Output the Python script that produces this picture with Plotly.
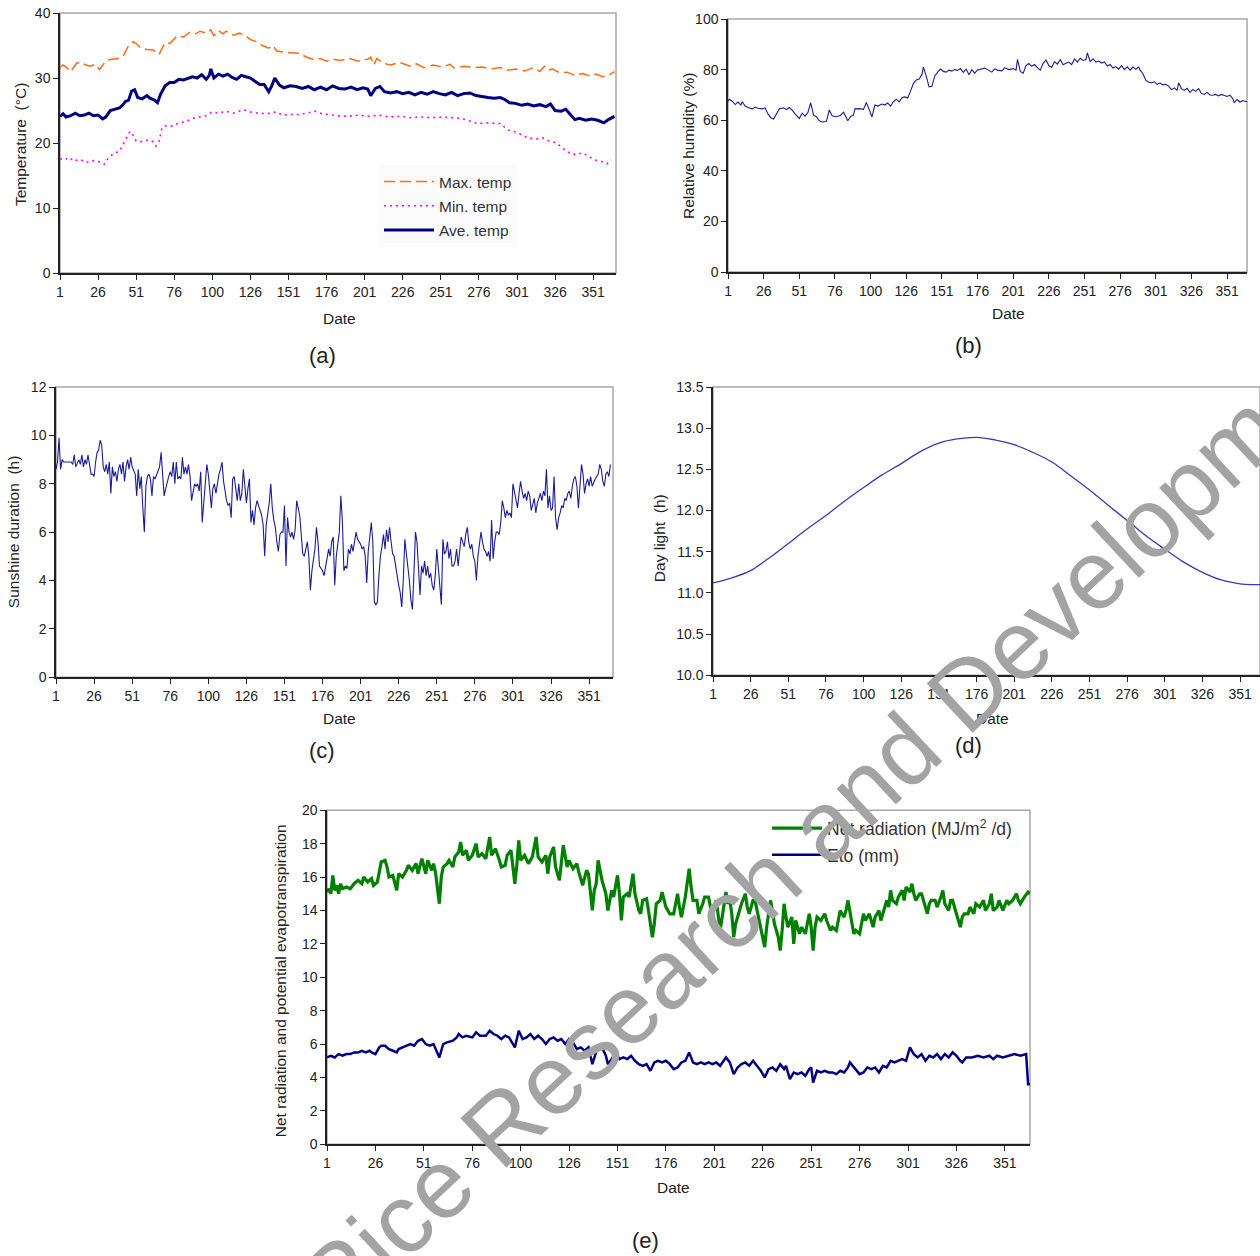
import plotly.graph_objects as go

W, H = 1260, 1256

# ---------------- data ----------------
tick_vals = [1, 26, 51, 76, 101, 126, 151, 176, 201, 226, 251, 276, 301, 326, 351]
tick_text = ["1", "26", "51", "76", "100", "126", "151", "176", "201", "226", "251", "276", "301", "326", "351"]

# (a) temperature
tmax_day = [1,3,5,8,12,15,18,21,24,27,31,35,40,43,46,49,51,54,58,62,64,66,69,71,73,78,82,86,90,93,97,100,102,105,108,110,115,119,123,126,130,134,138,141,143,147,152,158,163,168,172,176,180,185,191,197,203,205,207,209,213,218,224,231,235,240,246,252,257,260,266,272,278,284,290,295,300,306,312,316,319,322,324,329,334,339,344,349,353,357,361,365]
tmax_val = [31.6,32.0,31.7,31.0,32.3,32.4,32.0,31.8,32.1,31.3,32.6,32.9,33.0,33.6,35.0,35.6,35.3,34.6,34.4,34.3,34.0,33.6,35.0,35.5,35.3,36.5,36.3,37.0,36.8,37.2,36.9,37.4,36.5,37.3,36.8,37.2,36.6,36.9,36.5,35.9,35.6,35.0,34.6,35.0,34.2,34.0,33.9,33.8,33.2,32.8,33.0,32.6,32.9,32.7,33.0,32.6,32.9,33.2,32.0,33.0,32.3,32.0,32.4,31.8,32.2,31.6,32.0,31.7,32.1,31.5,31.8,31.6,31.7,31.4,31.6,31.2,31.4,31.1,31.6,31.0,31.8,31.2,31.4,30.8,30.9,30.4,30.7,30.3,30.6,30.2,30.4,31.0]

tmin_day = [1,4,7,10,14,18,22,26,30,33,37,40,44,47,49,51,55,59,62,64,66,68,71,75,79,84,88,93,97,101,105,110,115,121,124,127,132,137,143,147,152,158,163,168,173,178,183,190,197,203,210,217,224,231,238,245,252,258,264,270,275,282,290,295,300,304,308,313,318,322,326,329,332,336,340,344,348,352,356,360,363]
tmin_val = [17.6,17.4,17.8,17.2,17.5,17.0,17.3,17.2,16.7,17.8,18.5,18.7,20.5,21.8,21.2,20.3,20.2,20.5,20.2,19.5,20.2,22.4,22.7,22.6,23.1,23.3,23.8,24.0,24.2,24.8,24.6,24.9,24.6,25.1,25.0,24.7,24.6,24.5,24.8,24.3,24.4,24.4,24.6,24.9,24.5,24.3,24.2,24.1,24.3,24.1,24.3,24.0,24.1,23.9,24.0,23.9,24.0,23.9,23.8,23.4,23.0,23.1,23.0,22.0,21.7,21.3,20.8,20.6,20.8,20.3,20.1,19.6,19.0,18.4,18.2,18.5,17.9,17.4,17.2,16.8,17.4]

tavg_day = [1,3,5,8,11,14,17,20,23,26,29,31,34,37,40,42,44,46,48,50,52,55,58,60,63,65,67,70,73,76,79,82,85,88,91,94,97,99,100,102,105,108,111,114,117,120,123,126,129,132,135,138,140,142,145,148,152,156,160,164,168,172,176,180,184,188,192,196,200,203,205,208,211,214,218,222,226,230,234,238,242,246,250,254,258,262,266,270,274,278,282,286,290,293,296,300,304,308,312,316,320,323,326,330,333,336,339,342,346,350,354,358,361,365]
tavg_val = [24.1,24.5,24.0,24.2,24.6,24.2,24.3,24.6,24.2,24.3,23.7,24.0,25.0,25.2,25.4,25.8,26.4,26.6,28.0,28.2,27.0,26.8,27.3,26.9,26.6,26.2,27.5,28.8,29.3,29.3,29.8,29.7,30.0,30.2,30.0,30.5,29.8,30.4,31.4,30.0,30.6,30.3,30.6,30.1,29.8,30.4,30.2,30.0,29.5,29.0,29.0,27.9,28.8,30.0,28.9,28.5,28.8,28.7,28.4,28.7,28.2,28.6,28.2,28.8,28.4,28.3,28.6,28.2,28.5,28.3,27.3,28.4,28.7,27.9,27.7,27.9,27.6,27.8,27.4,27.8,27.5,27.9,27.6,27.4,27.8,27.3,27.6,27.7,27.3,27.1,27.0,26.9,27.0,26.7,26.2,26.1,25.8,26.0,25.7,25.9,25.6,26.0,25.0,24.9,25.2,24.4,23.6,23.8,23.5,23.7,23.5,23.1,23.6,24.1]

# (b) relative humidity
rh_day = [1,2,4,6,8,10,11,13,15,18,20,22,25,27,29,31,33,35,37,40,42,44,46,48,50,51,53,55,57,59,61,63,65,67,70,72,74,77,80,82,84,85,87,89,90,93,96,98,100,102,104,106,109,111,113,115,117,119,121,123,125,127,129,131,133,135,137,138,140,142,144,146,148,150,152,154,156,158,160,162,164,166,168,170,172,174,176,178,181,183,186,188,190,193,195,198,201,203,204,206,208,210,212,214,216,218,220,222,224,226,228,230,232,234,236,238,240,242,244,246,248,250,252,253,255,257,259,261,263,265,267,269,271,273,275,277,279,281,283,285,287,289,290,292,294,296,298,300,302,304,306,308,310,312,314,316,317,319,321,323,325,327,329,331,333,335,337,339,341,343,345,347,349,351,353,355,356,358,360,362,364,365]
rh_val = [67.5,68.3,67.5,66.2,67.2,66.0,67.3,65.6,65.0,64.5,65.2,64.7,64.5,64.9,62.5,61.0,60.5,62.8,64.5,64.9,64.2,65.0,64.0,62.5,61.5,60.7,62.8,61.6,63.0,66.9,62.0,61.4,59.8,59.3,59.5,64.0,61.8,61.4,62.0,63.2,61.0,59.8,61.5,62.0,64.5,64.6,64.3,67.0,64.2,61.3,66.0,65.6,66.4,66.0,66.8,65.6,67.4,68.3,67.2,68.9,69.2,68.8,71.5,74.5,75.9,76.3,78.0,81.0,77.5,73.2,73.4,77.5,79.0,80.2,79.3,79.0,79.8,79.4,80.0,79.7,80.4,78.9,80.2,78.0,80.0,78.6,79.9,80.3,80.6,80.0,79.0,80.3,79.8,79.5,80.7,80.0,80.4,79.8,84.0,79.3,78.6,81.6,82.4,81.3,82.0,80.8,79.8,82.5,83.8,81.6,80.9,83.2,82.2,84.0,81.9,82.5,83.0,82.0,84.2,83.0,84.5,83.6,84.0,86.6,83.2,84.3,83.0,83.4,82.6,83.0,81.4,82.0,80.6,81.2,80.2,81.6,80.0,81.1,79.8,81.0,80.1,81.0,79.8,78.4,75.8,75.0,74.8,75.2,74.2,74.7,74.0,74.2,73.5,72.1,72.8,71.8,74.8,72.5,71.8,72.6,71.0,72.2,71.4,72.5,70.6,70.2,71.0,70.0,69.9,70.2,69.6,70.2,69.7,69.4,69.9,68.6,67.0,68.2,67.2,67.8,67.3,67.5]

# (c) sunshine duration, days 1..365
sun_val = [8.6,8.9,9.9,8.6,9.0,8.9,8.9,8.9,8.9,8.9,8.9,8.8,9.2,8.7,8.9,9.0,8.8,9.2,8.7,9.0,8.8,9.2,8.8,8.4,8.4,8.3,8.9,9.3,9.4,9.8,9.6,8.7,8.5,8.8,8.4,8.9,7.6,8.7,8.3,8.5,
           8.1,8.6,8.8,8.4,8.9,8.1,8.7,9.0,8.6,9.1,8.7,8.5,8.4,7.5,8.6,7.8,8.3,7.0,6.0,7.9,8.3,8.4,8.2,7.5,8.3,8.2,8.4,8.5,8.7,9.3,8.3,7.5,7.8,8.1,8.3,8.5,8.3,8.9,8.0,8.9,
           8.2,8.3,8.2,9.1,8.4,8.7,8.4,8.8,8.3,7.3,7.6,8.0,7.9,8.0,7.7,8.5,6.4,7.3,8.3,8.8,8.4,7.6,7.0,7.8,8.0,7.6,8.0,8.4,8.6,8.9,8.1,7.7,7.3,7.1,7.2,6.6,8.2,8.3,7.8,7.3,
           8.0,7.3,7.6,8.6,7.9,7.2,7.8,8.2,6.4,6.9,6.3,7.0,7.3,7.1,6.9,6.7,6.3,5.0,6.3,6.8,7.2,8.0,7.0,6.5,6.2,5.6,5.2,5.9,6.0,6.0,7.1,4.6,6.6,6.0,5.8,6.0,5.7,6.1,7.3,7.0,
           6.7,5.9,5.1,5.0,5.4,5.6,5.0,3.6,4.4,4.8,5.3,6.2,5.6,4.6,4.5,4.4,4.2,4.6,5.1,5.3,5.0,5.6,5.8,3.8,5.0,5.4,6.0,7.5,6.5,4.4,4.6,4.5,5.3,5.1,5.5,5.2,5.6,6.0,5.7,5.6,
           5.5,5.3,5.4,5.0,3.9,5.2,5.7,6.4,5.6,3.1,3.0,3.1,4.2,5.0,5.4,5.9,5.3,6.1,5.6,6.2,5.6,5.1,5.0,4.5,4.2,3.8,3.5,2.9,4.0,5.7,5.2,4.6,4.0,3.2,2.8,4.3,6.0,5.6,4.6,3.4,
           4.6,4.3,4.8,4.2,4.6,4.1,4.3,3.8,3.6,4.2,5.3,4.6,4.0,3.0,5.7,5.1,5.2,5.6,4.9,5.3,4.6,4.6,4.8,5.3,4.6,5.2,5.8,5.6,5.4,5.9,6.2,5.6,5.3,5.5,5.0,4.8,4.0,5.0,5.5,6.0,
           5.6,5.3,5.2,5.0,5.2,4.8,6.5,4.9,5.6,6.0,6.0,5.9,6.4,7.3,7.0,6.6,6.9,6.7,6.8,6.6,8.0,7.6,7.4,7.0,7.6,8.1,7.7,7.4,7.6,7.3,7.7,7.5,6.9,7.2,7.4,6.8,7.2,7.4,7.6,7.3,
           7.7,7.5,8.6,7.0,7.5,6.9,7.0,8.3,6.6,6.1,6.6,6.8,7.1,7.0,7.4,7.3,7.6,7.7,7.4,7.9,8.2,8.3,7.9,7.0,8.1,8.8,8.4,7.6,8.0,8.2,7.9,8.3,7.9,8.1,8.2,8.3,8.4,8.8,8.6,8.1,
           7.9,8.4,8.5,8.3,8.8]
sun_day = list(range(1, len(sun_val) + 1))

# (d) day light
dl_day = [1,13,26,38,51,63,76,88,101,113,126,138,151,163,176,188,201,213,226,238,251,263,276,288,301,313,326,338,351,358,365]
dl_val = [11.12,11.18,11.27,11.42,11.60,11.77,11.94,12.11,12.28,12.43,12.57,12.71,12.82,12.87,12.89,12.86,12.80,12.71,12.59,12.43,12.25,12.07,11.88,11.70,11.53,11.38,11.25,11.16,11.11,11.10,11.10]

# (e) net radiation and ETo
rn_day = [1,2,3,4,5,6,7,8,9,11,13,15,17,19,20,22,24,25,27,29,31,32,33,35,37,38,40,42,43,45,47,48,50,51,52,53,55,56,57,59,60,61,63,64,66,67,69,70,71,73,74,76,78,79,81,83,85,86,88,90,91,93,94,96,98,99,100,101,103,105,107,109,110,112,114,115,116,118,119,121,122,123,125,126,128,130,131,133,135,136,138,139,140,141,142,143,145,146,148,149,151,152,153,154,156,157,159,160,162,163,164,166,167,169,170,171,173,174,176,178,180,182,183,184,186,188,189,190,192,193,195,196,198,199,200,202,204,205,207,208,209,210,211,212,214,215,217,218,219,221,222,224,225,227,228,230,231,232,234,235,236,237,238,239,241,242,243,245,246,248,250,251,252,253,254,256,258,259,261,262,264,266,268,269,270,271,273,274,276,278,279,281,283,284,286,287,288,290,291,292,293,295,296,298,299,300,302,303,304,305,307,308,310,311,312,313,315,316,318,319,320,322,323,324,326,328,329,330,332,333,335,336,338,340,341,343,344,345,347,348,350,352,353,355,357,358,359,361,363,364]
rn_val = [15.1,15.3,15.0,16.1,15.2,15.5,15.0,15.6,15.3,15.4,15.3,15.6,15.8,15.6,16.0,15.7,15.9,15.5,15.7,16.9,17.0,16.6,16.0,16.1,15.2,16.2,16.0,16.4,16.7,16.4,16.8,16.2,17.1,16.6,16.2,17.0,16.4,16.8,16.3,14.4,16.0,16.6,16.8,17.0,16.6,17.2,17.5,18.1,17.3,17.6,17.0,17.3,18.0,17.2,17.4,17.1,18.4,17.3,17.7,17.0,16.6,16.7,17.3,17.6,15.6,16.7,18.2,17.0,17.3,16.8,17.2,18.4,17.2,16.9,17.3,16.2,17.2,17.8,16.6,15.8,17.0,17.9,16.6,17.0,16.5,16.8,16.3,15.5,16.4,16.2,14.0,15.2,15.6,17.0,16.4,15.8,15.0,14.0,15.2,14.8,16.1,15.0,13.4,14.8,15.0,14.8,16.2,15.0,14.0,13.8,14.6,14.7,14.0,12.4,13.2,14.4,14.6,15.1,14.2,13.8,13.8,15.0,14.2,13.6,14.8,16.5,15.4,14.6,14.6,13.8,14.4,14.8,14.8,14.2,14.0,14.6,12.8,13.6,15.1,14.4,14.6,13.8,12.4,13.2,14.0,14.4,15.0,14.2,13.8,14.6,14.6,13.4,13.0,11.8,13.0,14.6,14.0,13.2,12.4,11.6,12.8,14.4,13.6,13.0,13.6,12.0,13.4,12.6,13.0,12.6,13.8,13.0,11.6,13.0,13.6,13.4,13.8,13.4,12.8,13.0,12.8,14.0,13.6,14.0,14.6,14.0,12.6,12.8,12.6,13.8,13.4,13.8,13.0,13.6,14.0,13.4,13.8,14.6,14.2,15.2,14.6,14.4,14.8,15.2,14.6,15.4,15.1,15.6,15.0,14.6,15.0,15.0,14.2,13.8,14.4,14.6,14.6,14.2,14.8,15.2,14.4,14.0,14.6,14.6,13.8,13.0,13.6,13.8,13.8,14.2,13.8,14.4,14.2,14.6,14.0,14.4,15.0,14.0,14.2,14.6,14.0,14.6,14.4,14.6,15.0,14.6,14.4,14.8,15.1,15.0]

eto_day = [1,3,5,7,9,11,13,15,17,19,21,23,24,26,28,29,31,33,35,37,38,40,42,44,46,48,50,52,54,56,59,61,63,66,68,69,71,73,76,78,80,83,85,87,89,91,93,95,98,100,102,104,106,108,110,112,114,116,118,120,122,124,126,128,130,132,134,136,138,140,141,143,145,146,148,150,152,154,156,158,160,162,164,166,168,170,172,174,176,178,180,182,184,186,188,190,192,194,196,198,200,202,204,207,209,211,213,215,217,219,221,223,225,227,229,231,233,235,237,238,240,242,244,246,248,250,251,252,254,256,258,260,262,264,266,268,270,271,273,275,276,278,280,282,284,286,288,290,292,294,296,298,300,302,304,306,308,310,312,314,316,318,320,322,324,326,328,329,331,334,337,340,343,345,347,350,353,356,359,362,363,364]
eto_val = [5.2,5.3,5.2,5.4,5.3,5.4,5.4,5.5,5.5,5.6,5.5,5.6,5.5,5.4,5.8,5.9,5.9,5.7,5.6,5.5,5.7,5.8,5.9,6.0,5.9,6.2,6.3,6.0,5.9,6.0,5.2,6.0,6.1,6.2,6.4,6.6,6.4,6.5,6.4,6.7,6.5,6.5,6.8,6.6,6.5,6.3,6.5,6.4,5.8,6.8,6.3,6.4,6.6,6.3,6.5,6.3,6.0,6.3,6.4,6.2,6.3,6.0,6.3,6.1,5.7,5.8,5.6,5.8,4.8,5.6,5.9,5.8,5.3,4.8,5.1,5.5,5.1,5.2,5.1,5.3,5.0,4.8,4.7,4.8,4.4,4.9,5.0,4.9,5.0,4.8,4.5,4.6,4.9,5.0,5.5,4.9,4.8,4.9,4.8,4.9,4.8,4.9,4.7,5.2,4.9,4.2,4.6,4.8,4.9,4.7,5.0,4.7,4.4,4.0,4.5,4.6,4.4,4.8,4.5,4.7,3.9,4.3,4.2,4.3,4.1,4.5,4.6,3.7,4.4,4.3,4.4,4.3,4.3,4.2,4.4,4.3,4.6,4.9,4.6,4.3,4.2,4.3,4.6,4.5,4.6,4.3,4.7,4.6,5.0,4.9,5.0,5.1,5.0,5.8,5.4,5.2,5.4,5.0,5.3,5.2,5.4,5.1,5.4,5.2,5.5,5.3,5.0,4.9,5.2,5.2,5.3,5.2,5.3,5.1,5.3,5.2,5.3,5.4,5.3,5.4,3.6,3.6]

# ---------------- layout geometry ----------------
# target positions are given in picture pixels; map them onto the paper
# (the photographed page shows the paper slightly inset, measured from earlier renders)
SX, OX = 0.9968, 4.0
SY, OY = 0.987, 8.0

def px_x(v):
    return min(1.0, max(0.0, ((v - OX) / SX) / W))

def px_y(v):
    return min(1.0, max(0.0, 1 - ((v - OY) / SY) / H))

panels = {
    "a": dict(x=(60, 616), y=(13, 273), xr=[1, 366], yr=[0, 40], dt=10, ax="x", ay="y"),
    "b": dict(x=(728, 1247), y=(19, 272), xr=[1, 365], yr=[0, 100], dt=20, ax="x2", ay="y2"),
    "c": dict(x=(56, 613), y=(387, 677), xr=[1, 366.7], yr=[0, 12], dt=2, ax="x3", ay="y3"),
    "d": dict(x=(713, 1260), y=(387, 675), xr=[1, 364.2], yr=[10, 13.5], dt=0.5, ax="x4", ay="y4"),
    "e": dict(x=(327, 1030), y=(810, 1144), xr=[1, 364], yr=[0, 20], dt=2, ax="x5", ay="y5"),
}

fig = go.Figure()

FONT = "Liberation Sans, Arial, sans-serif"
TXT = "#222222"

fig.add_trace(go.Scatter(x=tmax_day, y=tmax_val, mode="lines", name="Max. temp",
                         line=dict(color="#ff6a13", width=1.5, dash="11px,5px"),
                         xaxis="x", yaxis="y", legend="legend", legendgroup="g1"))
fig.add_trace(go.Scatter(x=tmin_day, y=tmin_val, mode="lines", name="Min. temp",
                         line=dict(color="#ff00ff", width=1.6, dash="2px,4px"),
                         xaxis="x", yaxis="y", legend="legend", legendgroup="g2"))
fig.add_trace(go.Scatter(x=tavg_day, y=tavg_val, mode="lines", name="Ave. temp",
                         line=dict(color="#000080", width=3),
                         xaxis="x", yaxis="y", legend="legend", legendgroup="g3"))
fig.add_trace(go.Scatter(x=rh_day, y=rh_val, mode="lines", showlegend=False,
                         line=dict(color="#1c1c96", width=1.1), xaxis="x2", yaxis="y2"))
fig.add_trace(go.Scatter(x=sun_day, y=sun_val, mode="lines", showlegend=False,
                         line=dict(color="#1c1c96", width=1.1), xaxis="x3", yaxis="y3"))
fig.add_trace(go.Scatter(x=dl_day, y=dl_val, mode="lines", showlegend=False, line_shape="spline",
                         line=dict(color="#3a3ab0", width=1.3), xaxis="x4", yaxis="y4"))
fig.add_trace(go.Scatter(x=rn_day, y=rn_val, mode="lines", name="Net radiation (MJ/m<sup>2</sup> /d)",
                         line=dict(color="#008000", width=3.2),
                         xaxis="x5", yaxis="y5", legend="legend2", legendgroup="h1"))
fig.add_trace(go.Scatter(x=eto_day, y=eto_val, mode="lines", name="Eto (mm)",
                         line=dict(color="#000080", width=2.5),
                         xaxis="x5", yaxis="y5", legend="legend2", legendgroup="h2"))

layout = dict(
    width=W, height=H,
    margin=dict(l=0, r=0, t=0, b=0),
    paper_bgcolor="white", plot_bgcolor="white",
    font=dict(family=FONT, size=14, color=TXT),
    legend=dict(x=px_x(379), y=px_y(165), xanchor="left", yanchor="top",
                bgcolor="#fbfbfb", font=dict(size=15.5, color="#333333"),
                traceorder="grouped", tracegroupgap=1, itemwidth=50),
    legend2=dict(x=px_x(767), y=px_y(810), xanchor="left", yanchor="top",
                 bgcolor="rgba(0,0,0,0)", font=dict(size=17.5, color="#333333"),
                 traceorder="grouped", tracegroupgap=1, itemwidth=50),
)

shapes = []
annotations = []
for key, p in panels.items():
    xa = "xaxis" + p["ax"][1:]
    ya = "yaxis" + p["ay"][1:]
    layout[xa] = dict(
        domain=[px_x(p["x"][0]), px_x(p["x"][1])], range=p["xr"], anchor=p["ay"],
        tickvals=tick_vals, ticktext=tick_text, ticks="outside", ticklen=5, tickwidth=1,
        tickcolor="#222", showline=True, linecolor="#222", linewidth=1.5,
        showgrid=False, zeroline=False, tickfont=dict(size=14, color=TXT),
    )
    layout[ya] = dict(
        domain=[px_y(p["y"][1]), px_y(p["y"][0])], range=p["yr"], anchor=p["ax"],
        dtick=p["dt"], tick0=p["yr"][0], ticks="outside", ticklen=5, tickwidth=1,
        tickcolor="#222", showline=True, linecolor="#222", linewidth=1.5,
        showgrid=False, zeroline=False, tickfont=dict(size=14, color=TXT),
        tickformat=".1f" if key == "d" else None,
    )
    shapes.append(dict(type="rect", xref=p["ax"] + " domain", yref=p["ay"] + " domain",
                       x0=0, x1=1, y0=0, y1=1, line=dict(color="#a8a8a8", width=1.5),
                       layer="below"))

date_pos = [(339, 318), (1008, 313), (339, 718), (992, 718), (673, 1187)]
for (x, y) in date_pos:
    annotations.append(dict(text="Date", x=px_x(x), y=px_y(y), xref="paper", yref="paper",
                            showarrow=False, xanchor="center", yanchor="middle",
                            font=dict(size=15.5, color=TXT)))
ytitles = [("Temperature  (°C)", 20, 145), ("Relative humidity (%)", 688, 146),
           ("Sunshine duration  (h)", 13, 532), ("Day light  (h)", 659, 538),
           ("Net radiation and potential evapotranspiration", 280, 981)]
for (t, x, y) in ytitles:
    annotations.append(dict(text=t, x=px_x(x), y=px_y(y), xref="paper", yref="paper",
                            showarrow=False, xanchor="center", yanchor="middle", textangle=-90,
                            font=dict(size=15.5, color=TXT)))
plabels = [("(a)", 322, 355), ("(b)", 968, 345), ("(c)", 322, 750), ("(d)", 968, 745), ("(e)", 645, 1240)]
for (t, x, y) in plabels:
    annotations.append(dict(text=t, x=px_x(x), y=px_y(y), xref="paper", yref="paper",
                            showarrow=False, xanchor="center", yanchor="middle",
                            font=dict(size=22, color=TXT)))

# watermark
annotations.append(dict(text="Rice Research and Development", x=px_x(840), y=px_y(810),
                        xref="paper", yref="paper", showarrow=False, textangle=-43,
                        xanchor="center", yanchor="middle",
                        font=dict(size=98, color="#a3a3a3", family=FONT)))

layout["shapes"] = shapes
layout["annotations"] = annotations
fig.update_layout(**layout)

fig.write_html("out.html")
